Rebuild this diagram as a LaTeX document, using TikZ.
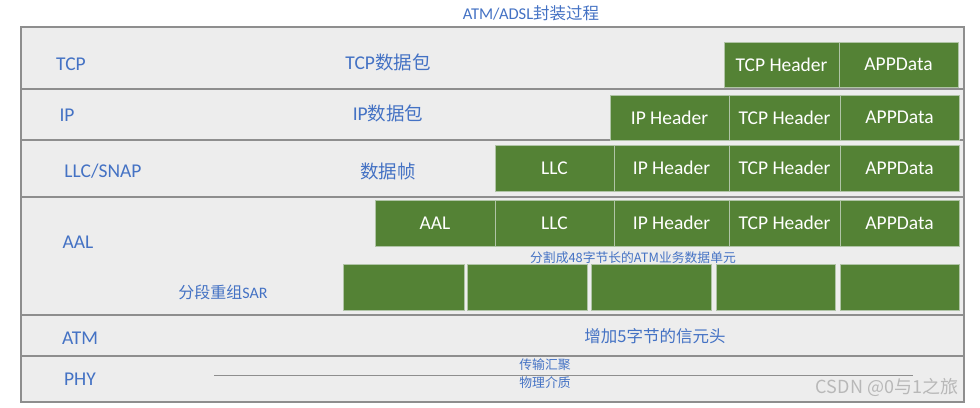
\documentclass[tikz,border=0pt]{standalone}
\usepackage{fontspec}
\setmainfont{Carlito}
\newfontfamily\cjk{Noto Sans CJK SC}
\definecolor{gfill}{HTML}{548235}
\definecolor{gedge}{HTML}{B0C4A6}
\definecolor{bgray}{HTML}{EDEDED}
\definecolor{lgray}{HTML}{8E8E8E}
\definecolor{tblue}{HTML}{4472C4}
\tikzset{
  gbox/.style={draw=gedge, fill=gfill, line width=1pt, text=white, inner sep=0pt,
    font=\fontsize{19.5}{21}\selectfont},
  lbl/.style={text=tblue, inner sep=0pt, font=\fontsize{19.5}{21}\selectfont},
  slbl/.style={text=tblue, inner sep=0pt, font=\fontsize{16}{18}\selectfont},
  tlbl/.style={text=tblue, inner sep=0pt, font=\cjk\fontsize{12.8}{14}\selectfont},
  sep/.style={draw=lgray, line width=1.2pt}
}
\begin{document}
\begin{tikzpicture}[x=1pt,y=-1pt]
\path[use as bounding box, fill=white] (0,0) rectangle (980,407);
% frame
\draw[draw=lgray, line width=1.2pt, fill=bgray] (21,27) rectangle (964,402);
\foreach \yy in {89,140,197,315,356} {\draw[sep] (21,\yy) -- (964,\yy);}
% title
\node[slbl, font=\fontsize{16.5}{18}\selectfont] (title) at (531,13) {ATM/ADSL{\cjk 封装过程}};
% layer labels
\node[lbl] (lTCP) at (71,64) {TCP};
\node[lbl] (lIP) at (67,115) {IP};
\node[lbl] (lLLC) at (103,171) {LLC/SNAP};
\node[lbl] (lAAL) at (78,242) {AAL};
\node[lbl] (lATM) at (80,338) {ATM};
\node[lbl] (lPHY) at (80,379) {PHY};
% row descriptions
\node[lbl] (dTCP) at (388,62) {TCP{\cjk\fontsize{18.5}{20}\selectfont 数据包}};
\node[lbl] (dIP) at (388,113) {IP{\cjk\fontsize{18.5}{20}\selectfont 数据包}};
\node[lbl] (dLLC) at (388,171) {{\cjk\fontsize{18.5}{20}\selectfont 数据帧}};
\node[slbl] (dSAR) at (223,292) {{\cjk 分段重组}SAR};
\node[tlbl] (dSeg) at (633,258) {分割成48字节长的ATM业务数据单元};
\node[lbl, font=\cjk\fontsize{16.5}{18}\selectfont] (dATM) at (655,336) {增加5字节的信元头};
% TCP row
\node[gbox, minimum width=115, minimum height=45] (t1) at (781.5,64.5) {TCP Header};
\node[gbox, minimum width=119, minimum height=45] (t2) at (898.5,64.5) {APPData};
% IP row
\node[gbox, minimum width=119, minimum height=45] (i1) at (669.5,117.5) {IP Header};
\node[gbox, minimum width=111, minimum height=45] (i2) at (784.5,117.5) {TCP Header};
\node[gbox, minimum width=119, minimum height=45] (i3) at (899.5,117.5) {APPData};
% LLC row
\node[gbox, minimum width=119, minimum height=46] (c1) at (554.5,168) {LLC};
\node[gbox, minimum width=115, minimum height=46] (c2) at (671.5,168) {IP Header};
\node[gbox, minimum width=111, minimum height=46] (c3) at (784.5,168) {TCP Header};
\node[gbox, minimum width=119, minimum height=46] (c4) at (899.5,168) {APPData};
% AAL row
\node[gbox, minimum width=120, minimum height=46] (a0) at (435,223) {AAL};
\node[gbox, minimum width=119, minimum height=46] (a1) at (554.5,223) {LLC};
\node[gbox, minimum width=115, minimum height=46] (a2) at (671.5,223) {IP Header};
\node[gbox, minimum width=111, minimum height=46] (a3) at (784.5,223) {TCP Header};
\node[gbox, minimum width=119, minimum height=46] (a4) at (899.5,223) {APPData};
% SAR cells
\node[gbox, minimum width=121, minimum height=46] (s1) at (403.5,287) {};
\node[gbox, minimum width=120, minimum height=46] (s2) at (527,287) {};
\node[gbox, minimum width=120, minimum height=46] (s3) at (651,287) {};
\node[gbox, minimum width=119, minimum height=46] (s4) at (775.5,287) {};
\node[gbox, minimum width=119, minimum height=46] (s5) at (899.5,287) {};
% PHY
\coordinate (p1) at (214,375);
\coordinate (p2) at (913,375);
\draw[draw=lgray, line width=1pt] (p1) -- (p2);
\node[tlbl] (ptc) at (545,365) {传输汇聚};
\node[tlbl] (ppm) at (545,383) {物理介质};
% watermark
\node[text=black!28, inner sep=0pt, font=\cjk\fontsize{18}{20}\selectfont] (wm) at (887,387) {CSDN @0与1之旅};
\end{tikzpicture}
\end{document}
